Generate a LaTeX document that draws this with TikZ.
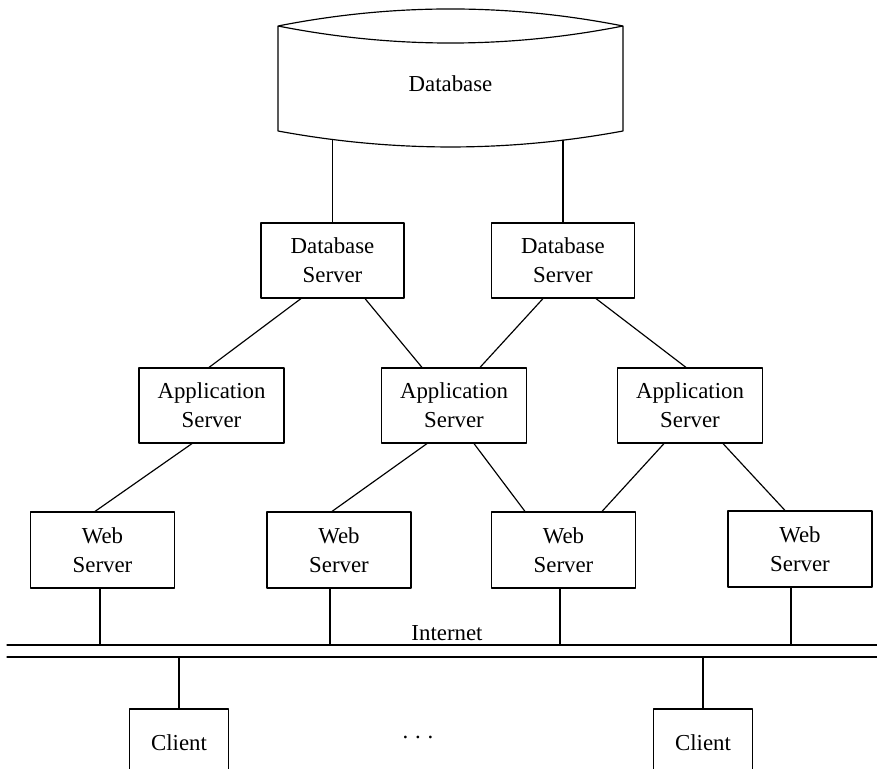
\documentclass[tikz,border=0pt]{standalone}
\usepackage{fontspec}
\setmainfont{Liberation Serif}
\usetikzlibrary{calc}
\tikzset{
  every picture/.style={line join=round, line cap=round, line width=1pt},
  txt/.style={font=\fontsize{19.5}{24.75}\selectfont, inner sep=0pt},
  srvbox/.style={draw, txt, align=center},
  dbsbox/.style={srvbox, minimum width=4.29cm, minimum height=2.25cm},
  appbox/.style={srvbox, minimum width=4.35cm, minimum height=2.25cm},
  webbox/.style={srvbox, minimum width=4.32cm, minimum height=2.28cm},
  clientbox/.style={srvbox, minimum width=2.97cm, minimum height=2.01cm},
}

\begin{document}
\begin{tikzpicture}[x=0.03cm, y=-0.03cm]
\useasboundingbox (0,0) rectangle (877,769);
% database drum
\draw (278,26) .. controls (393,3.3) and (508,3.3) .. (623,26)
  .. controls (508,48.7) and (393,48.7) .. (278,26) -- (278,131)
  .. controls (393,152.3) and (508,152.3) .. (623,131) -- (623,26);
\node[txt] (db) at (450.5,84) {Database};
\coordinate (dbA) at (332.5,139.5);
\coordinate (dbB) at (563,140.2);

% server tiers
\node[dbsbox] (dbsA) at (332.5,260.5) {Database\\Server};
\node[dbsbox] (dbsB) at (563,260.5) {Database\\Server};
\node[appbox] (appA) at (211.5,405.5) {Application\\Server};
\node[appbox] (appB) at (454,405.5) {Application\\Server};
\node[appbox] (appC) at (690,405.5) {Application\\Server};
\node[webbox] (webA) at (102.5,550) {Web\\Server};
\node[webbox] (webB) at (339,550) {Web\\Server};
\node[webbox] (webC) at (563.5,550) {Web\\Server};
\node[webbox] (webD) at (800,549) {Web\\Server};

\draw (dbA) -- (dbsA.north);
\draw (dbB) -- (dbsB.north);
\foreach \a/\da/\b/\db in {dbsA/-31.5/appA/-2.5, dbsA/32.5/appB/-32,
    dbsB/-20/appB/26, dbsB/33/appC/-4, appA/-19.5/webA/-7.5,
    appB/-27/webB/-7, appB/20/webC/-38.5, appC/-26/webC/38.5,
    appC/33/webD/-15}
  \draw ($(\a.south)+(\da,0)$) -- ($(\b.north)+(\db,0)$);

% internet
\coordinate (netL) at (7,645);
\coordinate (netR) at (877,645);
\coordinate (netBL) at (7,657);
\coordinate (netBR) at (877,657);
\draw (netL) -- (netR);
\draw (netBL) -- (netBR);
\node[txt, anchor=base] (net) at (447,640) {Internet};
\foreach \n/\d in {webA/-2.5, webB/-9, webC/-3.5, webD/-9}
  \draw ($(\n.south)+(\d,0)$) -- ($(\n.south |- netL)+(\d,0)$);

% clients
\node[clientbox] (cliA) at (179,742.5) {Client};
\node[clientbox] (cliB) at (703,742.5) {Client};
\node[txt] (dots) at (418,737) {.\hspace{0.3em}.\hspace{0.3em}.};
\draw (cliA.north) -- (cliA.north |- netBL);
\draw (cliB.north) -- (cliB.north |- netBL);
\end{tikzpicture}
\end{document}
